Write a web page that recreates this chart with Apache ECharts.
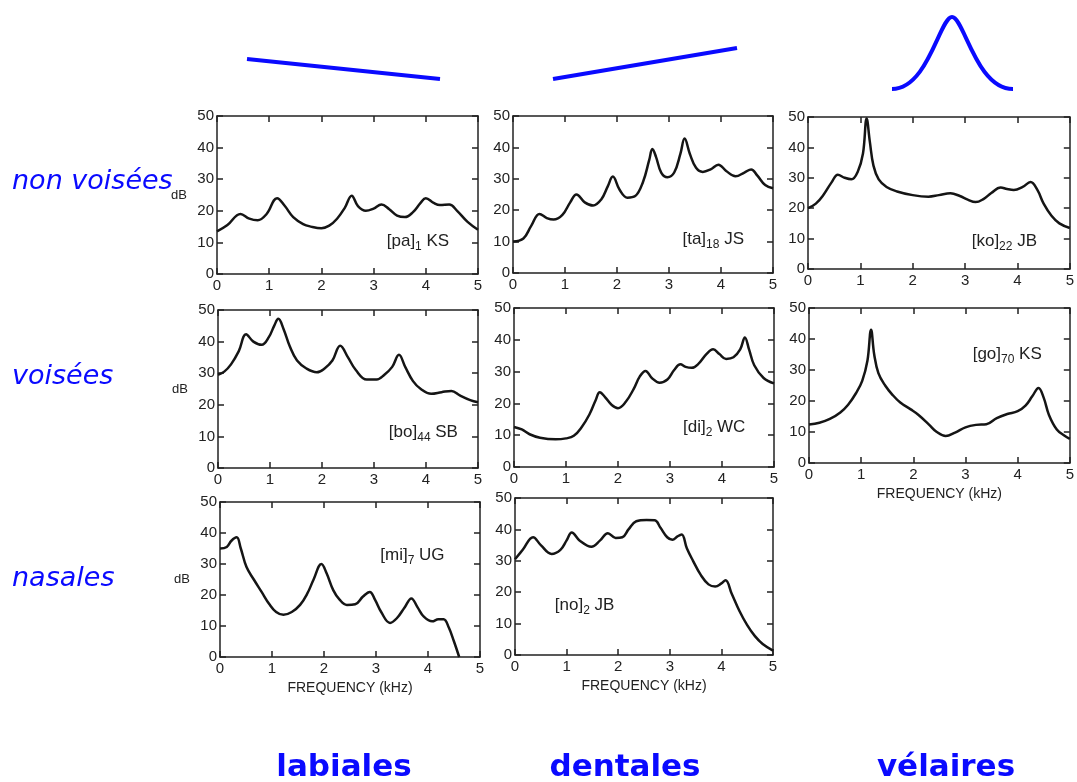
<!DOCTYPE html>
<html><head><meta charset="utf-8">
<script src="https://cdn.jsdelivr.net/npm/echarts@6/dist/echarts.min.js"></script>
<style>html,body{margin:0;padding:0;background:#fff}#c{width:1077px;height:782px}</style>
</head><body><div id="c"></div>
<script>
// Frequency axis (kHz) and level axis (dB)
const xMin = 0, xMax = 5, xStep = 1;
const yMin = 0, yMax = 50, yStep = 10;

const rowLabels = ['non voisées', 'voisées', 'nasales'];
const colLabels = ['labiales', 'dentales', 'vélaires'];

// spectra: [frequency kHz, level dB]
const pa = [[0,13.5],[0.2,15.5],[0.45,19],[0.62,17.5],[0.78,17],[0.95,19],[1.15,24],[1.3,21.5],[1.46,18],[1.65,15.8],[1.8,15],[2.0,14.5],[2.15,15.3],[2.3,17.5],[2.45,21],[2.58,24.8],[2.7,21.5],[2.85,20],[3.0,20.7],[3.15,22],[3.3,20.5],[3.45,18.5],[3.6,18],[3.75,19.5],[3.9,22.5],[4.0,24],[4.15,22.5],[4.27,21.8],[4.45,22],[4.6,20],[4.8,16.5],[5,14]];
const ta = [[0,10],[0.2,11],[0.35,15],[0.51,18.8],[0.65,17.5],[0.78,17],[0.95,18.5],[1.1,22.5],[1.22,25],[1.38,22.5],[1.54,21.5],[1.7,23.5],[1.82,27.5],[1.92,30.7],[2.05,26.5],[2.2,24],[2.35,24.5],[2.5,29],[2.62,36],[2.68,39.5],[2.75,37],[2.85,32],[2.97,30.5],[3.1,32],[3.22,38],[3.3,42.8],[3.4,38],[3.52,33.5],[3.65,32.2],[3.8,33],[3.95,34.5],[4.1,32.5],[4.28,30.8],[4.45,32],[4.58,33],[4.7,31],[4.85,28],[5,27]];
const ko = [[0,20],[0.15,21.5],[0.3,24.5],[0.45,28.5],[0.57,31],[0.7,30],[0.83,29.5],[0.95,32],[1.05,38],[1.12,49.5],[1.18,42],[1.25,34],[1.35,29.5],[1.5,27],[1.7,25.5],[2.0,24.3],[2.3,23.8],[2.5,24.3],[2.72,24.9],[2.9,24],[3.05,22.8],[3.2,22],[3.35,23],[3.5,25],[3.68,26.8],[3.8,26.3],[3.93,26],[4.1,27],[4.25,28.6],[4.38,26],[4.5,21.5],[4.65,17.5],[4.8,15],[5,13.5]];
const bo = [[0,29.5],[0.12,30.5],[0.25,32.8],[0.4,37],[0.54,42.3],[0.68,40],[0.84,39],[0.98,41.5],[1.08,45],[1.16,47.2],[1.26,44],[1.38,38.5],[1.52,34],[1.7,31.5],[1.9,30.3],[2.05,31.5],[2.2,34],[2.35,38.7],[2.5,35],[2.65,31],[2.86,28],[3.05,28],[3.2,29.5],[3.35,32],[3.48,35.8],[3.6,32],[3.75,27.5],[3.9,25],[4.1,23.5],[4.3,24],[4.49,24.4],[4.65,23],[4.85,21.5],[5,20.8]];
const di = [[0,12.6],[0.15,11.8],[0.3,10.3],[0.5,9.2],[0.8,8.7],[1.0,9],[1.15,9.8],[1.3,12.5],[1.45,16.5],[1.57,21],[1.65,23.5],[1.75,22],[1.88,19.5],[2.0,18.5],[2.15,20.5],[2.3,24.5],[2.42,28.5],[2.53,30.2],[2.65,28],[2.8,26.5],[2.95,27.5],[3.08,30.5],[3.2,32.3],[3.3,31.5],[3.42,31.2],[3.55,32.5],[3.7,35.5],[3.83,37],[3.95,35.5],[4.08,34],[4.22,34.5],[4.35,37],[4.44,40.7],[4.52,37],[4.62,32],[4.8,28],[5,26.3]];
const go = [[0,12.4],[0.2,13],[0.4,14.2],[0.6,16.3],[0.75,18.8],[0.9,22.5],[1.02,26.5],[1.12,33],[1.19,43],[1.25,35],[1.33,29],[1.46,25],[1.6,22],[1.75,19.5],[1.95,17.3],[2.1,15.5],[2.3,12.4],[2.45,10],[2.62,8.7],[2.8,9.8],[3.0,11.5],[3.2,12.3],[3.4,12.5],[3.6,14.5],[3.8,15.8],[4.0,16.7],[4.15,18.5],[4.28,21.5],[4.4,24.2],[4.5,21],[4.6,15.5],[4.75,10.8],[4.9,8.8],[5,7.8]];
const mi = [[0,35],[0.13,35.5],[0.22,37.5],[0.32,38.6],[0.4,35],[0.51,29],[0.65,25],[0.8,21],[0.95,17],[1.08,14.5],[1.22,13.6],[1.38,14.5],[1.54,16.8],[1.68,20.5],[1.8,25],[1.95,30],[2.05,27],[2.18,21.5],[2.3,18.5],[2.44,16.8],[2.6,17],[2.75,19.5],[2.88,21],[2.98,18.5],[3.1,14.5],[3.27,11],[3.4,12.5],[3.55,16],[3.68,18.9],[3.8,16],[3.92,13],[4.08,11.5],[4.2,12.2],[4.3,12.2],[4.4,9.5],[4.5,5],[4.6,0]];
const no = [[0,30.5],[0.15,33.5],[0.35,37.5],[0.5,35],[0.71,32.2],[0.88,33.5],[1.0,36.5],[1.1,39],[1.25,36.5],[1.48,34.5],[1.65,36.5],[1.8,38.8],[1.95,37.3],[2.08,37.5],[2.2,40],[2.35,42.6],[2.55,43],[2.71,42.9],[2.82,40.5],[2.95,37.5],[3.05,36.7],[3.15,37.8],[3.23,38.4],[3.33,34],[3.45,30],[3.6,25.5],[3.75,22.5],[3.88,21.8],[4.0,22.8],[4.08,23.8],[4.2,19.5],[4.35,14],[4.5,9.5],[4.65,6],[4.8,3.5],[5,1.4]];

// annotation labels and their position in data coords [kHz, dB]
const notes = ['[pa]{s|1} KS','[ta]{s|18} JS','[ko]{s|22} JB','[bo]{s|44} SB','[di]{s|2} WC','[go]{s|70} KS','[mi]{s|7} UG','[no]{s|2} JB'];
const noteAt = [[3.85,10.3],[3.85,10.8],[3.75,9.2],[3.95,11.2],[3.85,12.6],[3.8,35.2],[3.7,32.8],[1.35,15.8]];

const panels = [
  {d: pa, g: [217,116,261,158], dB: true,  fq: false},
  {d: ta, g: [513,116,260,157], dB: false, fq: false},
  {d: ko, g: [808,117,265,152], dB: false, fq: false},
  {d: bo, g: [218,310,260,158], dB: true,  fq: false},
  {d: di, g: [514,308,260,159], dB: false, fq: false},
  {d: go, g: [809,308,264,155], dB: false, fq: true},
  {d: mi, g: [220,502,260,155], dB: true,  fq: true},
  {d: no, g: [515,498,258,157], dB: false, fq: true}
];

const ink = '#222';
const font = 'Liberation Sans, Arial, sans-serif';
const lineS = {color: ink, width: 1.5};
const grids = [], xAxes = [], yAxes = [], series = [];

panels.forEach((p, i) => {
  grids.push({left: p.g[0], top: p.g[1], width: p.g[2], height: p.g[3], containLabel: false, show: false});
  const base = {type: 'value', gridIndex: i, splitLine: {show: false}, axisLine: {show: true, onZero: false, lineStyle: lineS}, axisTick: {show: true, inside: true, length: 6, lineStyle: lineS}};
  xAxes.push(Object.assign({}, base, {min: xMin, max: xMax, interval: xStep, position: 'bottom',
    axisLabel: {color: ink, fontSize: 15, fontFamily: font, margin: 4},
    name: p.fq ? 'FREQUENCY (kHz)' : '', nameLocation: 'middle', nameGap: 24,
    nameTextStyle: {color: ink, fontSize: 14, fontFamily: font}}));
  xAxes.push(Object.assign({}, base, {min: xMin, max: xMax, interval: xStep, position: 'top', axisLabel: {show: false}}));
  yAxes.push(Object.assign({}, base, {min: yMin, max: yMax, interval: yStep, position: 'left',
    axisLabel: {color: ink, fontSize: 15, fontFamily: font, margin: 3},
    name: p.dB ? 'dB' : '', nameLocation: 'middle', nameRotate: 0, nameGap: 38,
    nameTextStyle: {color: ink, fontSize: 13, fontFamily: font, align: 'center', verticalAlign: 'middle'}}));
  yAxes.push(Object.assign({}, base, {min: yMin, max: yMax, interval: yStep, position: 'right', axisLabel: {show: false}}));
  series.push({
    type: 'line', xAxisIndex: 2*i, yAxisIndex: 2*i, data: p.d, showSymbol: false, smooth: 0.4,
    lineStyle: {color: '#151515', width: 2.5}, silent: true,
    markPoint: {
      silent: true, symbol: 'circle', symbolSize: 1, itemStyle: {color: 'rgba(0,0,0,0)'},
      label: {show: true, position: 'inside', formatter: notes[i], color: ink, fontSize: 17, fontFamily: font,
        rich: {s: {fontSize: 12, color: ink, fontFamily: font, padding: [11, 0, 0, 0]}}},
      data: [{coord: noteAt[i]}]
    }
  });
});

const blue = '#0a0aff';
const graphics = [
  {type: 'line', shape: {x1: 247, y1: 59, x2: 440, y2: 79}, style: {stroke: blue, lineWidth: 4}},
  {type: 'line', shape: {x1: 553, y1: 79, x2: 737, y2: 48}, style: {stroke: blue, lineWidth: 4}},
  {type: 'bezierCurve', shape: {x1: 892, y1: 89, cpx1: 928, cpy1: 89, cpx2: 940, cpy2: 17, x2: 952, y2: 17}, style: {stroke: blue, lineWidth: 4, fill: null}},
  {type: 'bezierCurve', shape: {x1: 952, y1: 17, cpx1: 964, cpy1: 17, cpx2: 976, cpy2: 89, x2: 1013, y2: 89}, style: {stroke: blue, lineWidth: 4, fill: null}}
];
const rowY = [182, 377, 579];
rowLabels.forEach((t, k) => graphics.push({type: 'text', x: 12, y: rowY[k],
  style: {text: t, fill: blue, font: 'italic 27px "DejaVu Sans", sans-serif', textAlign: 'left', textVerticalAlign: 'middle'}}));
const colX = [344, 625, 946];
colLabels.forEach((t, k) => graphics.push({type: 'text', x: colX[k], y: 768,
  style: {text: t, fill: blue, font: 'bold 31px "DejaVu Sans", sans-serif', textAlign: 'center', textVerticalAlign: 'middle'}}));

const chart = echarts.init(document.getElementById('c'), null, {renderer: 'canvas'});
chart.setOption({
  animation: false, backgroundColor: '#fff',
  grid: grids, xAxis: xAxes, yAxis: yAxes, series: series, graphic: graphics
});
</script></body></html>
